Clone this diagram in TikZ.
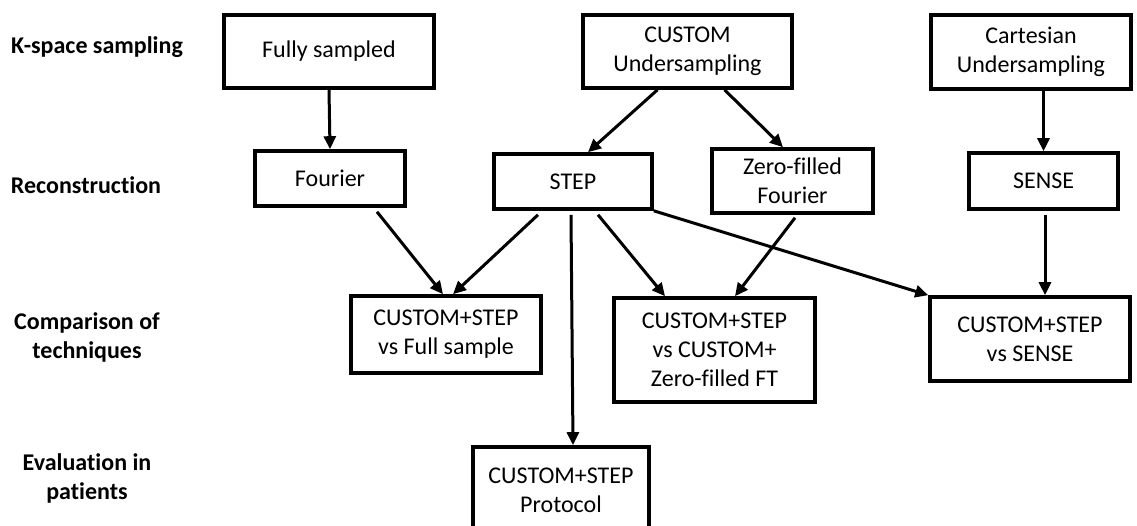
\documentclass[tikz,border=0pt]{standalone}
\usepackage{fontspec}
\setmainfont{Carlito}[Ligatures=NoCommon]
\usetikzlibrary{calc,arrows.meta}
\begin{document}
\begin{tikzpicture}[x=1pt,y=-1pt,
  box/.style={draw,line width=3.6pt,inner sep=0pt,align=center,font=\fontsize{24}{29}\selectfont},
  lbl/.style={align=center,font=\fontsize{24}{29}\selectfont\bfseries},
  arr/.style={line width=3pt,-{Triangle[length=13pt,width=12pt]}}]
\clip (0,0) rectangle (1137,526);
\fill[white] (0,0) rectangle (1137,526);
% row labels
\node[lbl] (l1) at (97,47) {K-space sampling};
\node[lbl] (l2) at (86,185) {Reconstruction};
\node[lbl] (l3) at (87,337) {Comparison of\\techniques};
\node[lbl] (l4) at (87,478) {Evaluation in\\patients};
% boxes
\node[box,minimum width=210,minimum height=73] (full) at (329,51.5) {Fully sampled};
\node[box,minimum width=209,minimum height=73] (custom) at (687.5,51.5) {CUSTOM\\Undersampling};
\node[box,minimum width=200,minimum height=74] (cart) at (1031,52) {Cartesian\\Undersampling};
\node[box,minimum width=150,minimum height=55] (fourier) at (330,178.5) {Fourier};
\node[box,minimum width=158,minimum height=55] (step) at (573,181.5) {STEP};
\node[box,minimum width=161,minimum height=64] (zf) at (792.5,181) {Zero-filled\\Fourier};
\node[box,minimum width=149,minimum height=56] (sense) at (1043.5,181) {SENSE};
\node[box,minimum width=190,minimum height=77] (c1) at (446,334.5) {CUSTOM+STEP\\vs Full sample};
\node[box,minimum width=201,minimum height=104] (c2) at (714.5,350) {CUSTOM+STEP\\vs CUSTOM+\\Zero-filled FT};
\node[box,minimum width=200,minimum height=84] (c3) at (1030,339) {CUSTOM+STEP\\vs SENSE};
\node[box,minimum width=176,minimum height=86] (prot) at (561,490) {CUSTOM+STEP\\Protocol};
% arrows
\draw[arr] (full.south) -- (fourier.north);
\draw[arr] ($(custom.south)+(-30,0)$) -- ($(step.north)+(15,0)$);
\draw[arr] ($(custom.south)+(37,0)$) -- ($(zf.north)+(-9.5,0)$);
\draw[arr] (sense.north |- cart.south) -- (sense.north);
\draw[arr] ($(fourier.south)+(47,4)$) -- ($(c1.north)+(-3,0)$);
\draw[arr] ($(step.south)+(-35,4)$) -- ($(c1.north)+(7,0)$);
\draw[arr] ($(step.south)+(-2,4)$) -- ($(prot.north)+(12,0)$);
\draw[arr] ($(step.south)+(25,4)$) -- ($(c2.north)+(-49.5,0)$);
\draw[arr] ($(zf.south)+(2.5,3)$) -- ($(c2.north)+(20.5,0)$);
\draw[arr] (step.south east) -- (c3.north west);
\draw[arr] ($(sense.south)+(1.5,4)$) -- ($(c3.north)+(15,0)$);
\end{tikzpicture}
\end{document}
